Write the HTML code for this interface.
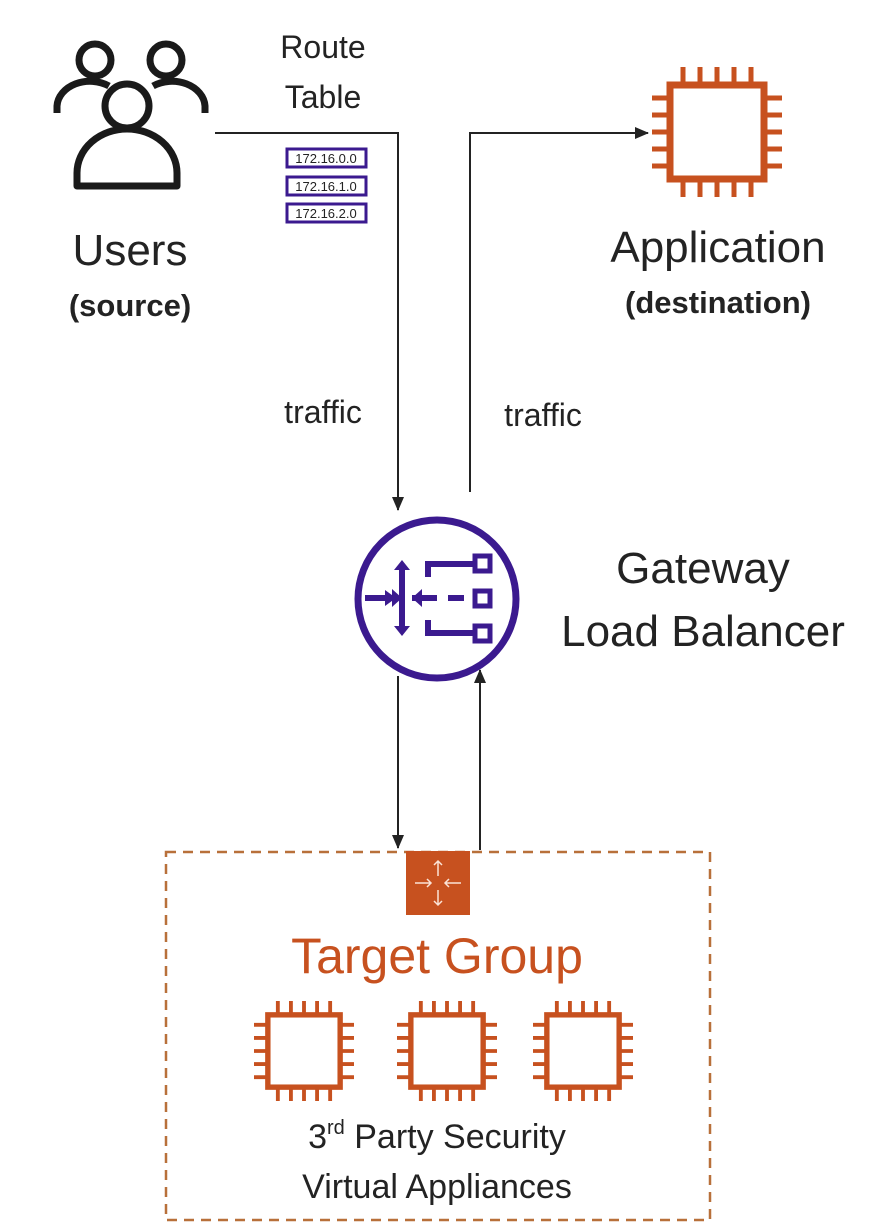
<!DOCTYPE html>
<html><head><meta charset="utf-8"><style>
html,body{margin:0;padding:0;background:#fff;}
svg{display:block;}
text{font-family:"Liberation Sans",sans-serif;fill:#232323;}
</style></head><body>
<svg width="886" height="1226" viewBox="0 0 886 1226" xmlns="http://www.w3.org/2000/svg">
<defs>
<symbol id="chip" viewBox="0 0 130 130">
<rect x="18" y="18" width="94" height="94" fill="#fff" stroke="#c7511f" stroke-width="7"/>
<g stroke="#c7511f" stroke-width="5">
<path d="M31 0V15M48 0V15M65 0V15M82 0V15M99 0V15"/>
<path d="M31 115V130M48 115V130M65 115V130M82 115V130M99 115V130"/>
<path d="M0 31H15M0 48H15M0 65H15M0 82H15M0 99H15"/>
<path d="M115 31H130M115 48H130M115 65H130M115 82H130M115 99H130"/>
</g>
</symbol>
<marker id="ah" markerWidth="14" markerHeight="14" refX="13" refY="6" orient="auto" markerUnits="userSpaceOnUse"><path d="M0 0L14 6L0 12Z" fill="#232323"/></marker>
</defs>

<!-- Users icon -->
<g fill="none" stroke="#1a1a1a" stroke-width="7" stroke-linejoin="round">
<circle cx="95" cy="60" r="16"/>
<path d="M57 113V106a33 26 0 0 1 52-20"/>
<circle cx="166" cy="60" r="16"/>
<path d="M205 113V106a33 26 0 0 0-52-20"/>
<circle cx="127" cy="106" r="22"/>
<path d="M77 186V173a50 44 0 0 1 100 0V186Z"/>
</g>
<text x="130" y="265" font-size="44" text-anchor="middle">Users</text>
<text x="130" y="316" font-size="31" font-weight="bold" text-anchor="middle">(source)</text>

<text x="323" y="58" font-size="32" text-anchor="middle">Route</text>
<text x="323" y="108" font-size="32" text-anchor="middle">Table</text>
<g fill="#fff" stroke="#3b1a8f" stroke-width="3">
<rect x="287" y="149" width="79" height="18"/>
<rect x="287" y="177" width="79" height="18"/>
<rect x="287" y="204" width="79" height="18"/>
</g>
<g font-size="13" text-anchor="middle"><text x="326" y="163">172.16.0.0</text><text x="326" y="191">172.16.1.0</text><text x="326" y="218">172.16.2.0</text></g>

<!-- connectors -->
<g fill="none" stroke="#232323" stroke-width="2">
<path d="M215 133H398V510" marker-end="url(#ah)"/>
<path d="M470 492V133H648" marker-end="url(#ah)"/>
<path d="M398 676V848" marker-end="url(#ah)"/>
<path d="M480 850V670" marker-end="url(#ah)"/>
</g>
<text x="323" y="423" font-size="32" text-anchor="middle">traffic</text>
<text x="543" y="426" font-size="32" text-anchor="middle">traffic</text>

<use href="#chip" x="652" y="67" width="130" height="130"/>
<text x="718" y="262" font-size="44" text-anchor="middle">Application</text>
<text x="718" y="313" font-size="31" font-weight="bold" text-anchor="middle">(destination)</text>

<!-- GWLB -->
<circle cx="437" cy="599" r="79" fill="#fff" stroke="#3b1a8f" stroke-width="7"/>
<g stroke="#3b1a8f" stroke-width="6" fill="none">
<path d="M365 598H390M402 568V630M412 598H437M448 598H464"/>
<path d="M428 577V564H476M428 620V633H476"/>
</g>
<g fill="#3b1a8f">
<path d="M385 590L396 598L385 606Z"/>
<path d="M392 589L402 598L392 607Z"/>
<path d="M394 570L402 560L410 570Z M394 626L402 636L410 626Z"/>
<path d="M422 589L412 598L422 607Z"/>
</g>
<g fill="#fff" stroke="#3b1a8f" stroke-width="5">
<rect x="475" y="556" width="15" height="15"/>
<rect x="475" y="591" width="15" height="15"/>
<rect x="475" y="626" width="15" height="15"/>
</g>
<text x="703" y="583" font-size="44" text-anchor="middle">Gateway</text>
<text x="703" y="646" font-size="44" text-anchor="middle">Load Balancer</text>

<!-- Target group -->
<rect x="166" y="852" width="544" height="368" fill="none" stroke="#b8703a" stroke-width="2.5" stroke-dasharray="10 7"/>
<rect x="406" y="851" width="64" height="64" fill="#c7511f"/>
<g stroke="#fbe3d6" stroke-width="1.5" fill="none">
<path d="M438 861V876M434 865L438 861L442 865"/>
<path d="M438 890V905M434 901L438 905L442 901"/>
<path d="M415 883H431M427 879L431 883L427 887"/>
<path d="M461 883H445M449 879L445 883L449 887"/>
</g>
<text x="437" y="973" font-size="50" text-anchor="middle" style="fill:#c7511f">Target Group</text>
<use href="#chip" x="254" y="1001" width="100" height="100"/>
<use href="#chip" x="397" y="1001" width="100" height="100"/>
<use href="#chip" x="533" y="1001" width="100" height="100"/>
<text x="437" y="1148" font-size="34" text-anchor="middle">3<tspan font-size="20" dy="-14">rd</tspan><tspan dy="14"> Party Security</tspan></text>
<text x="437" y="1198" font-size="34" text-anchor="middle">Virtual Appliances</text>
</svg>
</body></html>
